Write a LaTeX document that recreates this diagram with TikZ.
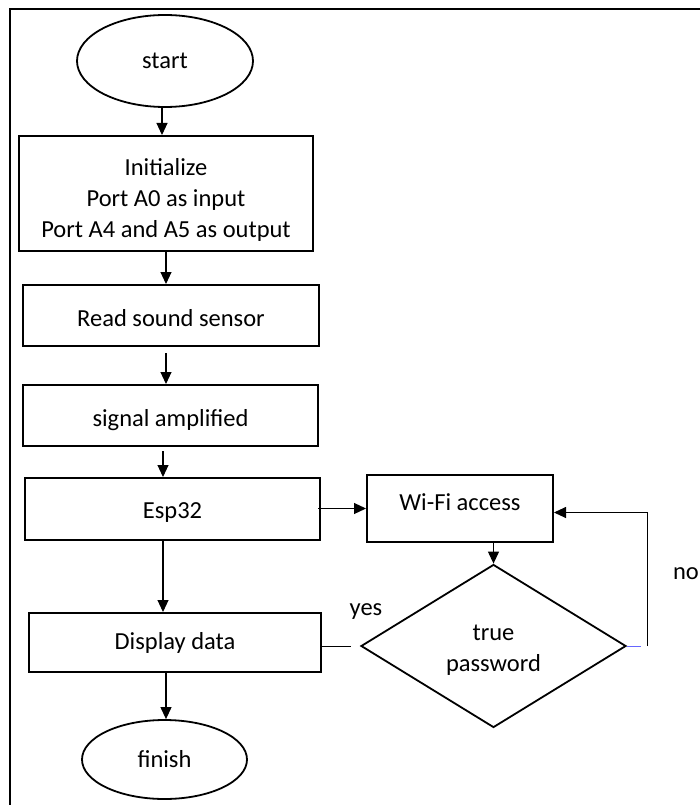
\documentclass[tikz,border=0pt]{standalone}
\usepackage{fontspec}
\setmainfont{Carlito}
\usetikzlibrary{shapes.geometric,arrows.meta}
\begin{document}
\begin{tikzpicture}[x=1pt,y=-1pt,font=\fontsize{24.5}{31}\selectfont]
    \tikzstyle{box} = [rectangle, draw, line width=2pt, inner sep=0pt, text centered, align=center]
    \tikzstyle{oval} = [ellipse, draw, line width=1.8pt, inner sep=0pt, text centered]
    \tikzstyle{choice} = [diamond, draw, line width=1.8pt, inner sep=0pt, align=center]
    \tikzstyle{flow} = [line width=1.1pt, -{Triangle[length=12pt,width=11pt]}]

    \useasboundingbox (0,0) rectangle (700,805);
    \draw[line width=1.4pt] (10,805) -- (10,9) -- (700,9);

      \draw
        (165, 61) node[oval, minimum width=176pt, minimum height=92pt] (0){start}
        (166, 193.5) node[box, minimum width=294pt, minimum height=115pt, text height=88pt, text depth=0pt] (1){Initialize\\Port A0 as input\\Port A4 and A5 as output}
        (171, 315.5) node[box, minimum width=296pt, minimum height=61pt, text height=21pt, text depth=0pt] (2){Read sound sensor}
        (170.5, 415.5) node[box, minimum width=295pt, minimum height=61pt, text height=21pt, text depth=0pt] (3){signal amplified}
        (172.5, 509) node[box, minimum width=295pt, minimum height=62pt, text height=19pt, text depth=0pt] (4){Esp32}
        (460, 508.5) node[box, minimum width=186pt, minimum height=67pt, text depth=12pt] (5){Wi-Fi access}
        (493.5, 646) node[choice, minimum width=265pt, minimum height=163pt, text height=50pt, text depth=0pt] (6){true\\password}
        (175, 642.5) node[box, minimum width=292pt, minimum height=59pt] (7){Display data}
        (164.5, 759.5) node[oval, minimum width=165pt, minimum height=79pt] (8){finish}
        (366, 612) node[] (9){yes}
        (686, 574) node[] (10){no};

      \begin{scope}[flow]
        \draw (0.south -| 162,0) -- (162,0 |- 1.north);
        \draw (1.south) -- (1.south |- 2.north);
        \draw[shorten <=6pt] (1.south |- 2.south) -- (1.south |- 3.north);
        \draw ([yshift=-4pt]3.south -| 4.south -| 163,0) -- (163,0 |- 4.north);
        \draw ([xshift=-3pt]4.east |- 5.west) -- (5.west);
        \draw (5.south -| 6.north) -- (6.north);
        \draw (4.south -| 163,0) -- (163,0 |- 7.north);
        \draw (7.south -| 166,0) -- (166,0 |- 8.north);
        \draw[line width=0.9pt] ([xshift=21pt]6.east) |- ([yshift=-4pt]5.east);
      \end{scope}
      \draw[line width=0.9pt] (7.east |- 6.west) -- ([xshift=-9pt]6.west);
      \draw[line width=0.9pt, blue!60] (6.east) -- ([xshift=14pt]6.east);
    \end{tikzpicture}
\end{document}
